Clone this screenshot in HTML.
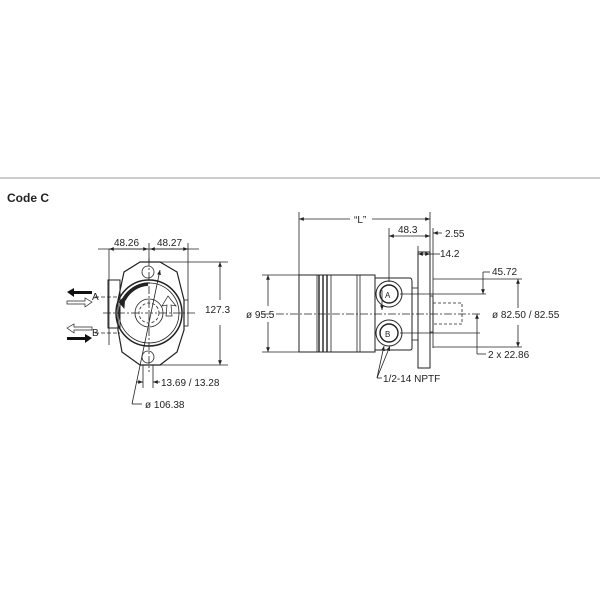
<!DOCTYPE html>
<html><head><style>
body{margin:0;background:#fff;}
svg{display:block;}
text{font-family:"Liberation Sans",sans-serif;font-size:10px;fill:#222;}
</style></head><body>
<svg width="600" height="600" viewBox="0 0 600 600" xmlns="http://www.w3.org/2000/svg">
<defs>
<marker id="ar" viewBox="0 0 10 10" refX="10" refY="5" markerWidth="6" markerHeight="6" orient="auto-start-reverse"><path d="M0,1 L10,5 L0,9z" fill="#222"/></marker>
</defs>
<line x1="0" y1="178" x2="600" y2="178" stroke="#999" stroke-width="1"/>
<text x="7" y="202" style="font-size:12px;font-weight:bold">Code C</text>

<g stroke="#222" fill="none" stroke-width="0.8">
<!-- LEFT VIEW -->
<line x1="109" y1="249" x2="109" y2="345"/>
<line x1="149" y1="243" x2="149" y2="262"/>
<line x1="188" y1="243" x2="188" y2="300"/>
<line x1="98" y1="249" x2="199" y2="249"/>
<line x1="109" y1="249" x2="148" y2="249" marker-start="url(#ar)" marker-end="url(#ar)"/>
<line x1="150" y1="249" x2="188" y2="249" marker-start="url(#ar)" marker-end="url(#ar)"/>
<line x1="150" y1="262" x2="228" y2="262"/>
<line x1="150" y1="365" x2="228" y2="365"/>
<line x1="220" y1="262" x2="220" y2="300" marker-start="url(#ar)"/>
<line x1="220" y1="325" x2="220" y2="365" marker-end="url(#ar)"/>
<!-- body -->
<path d="M140,262 L160,262 L177,272 L184,300 L184,330 L177,352 L160,365 L140,365 L122,352 L118,330 L118,300 L124,272 Z" stroke-width="1.2"/>
<rect x="108" y="280" width="12" height="48" stroke-width="1"/>
<rect x="184" y="300" width="4" height="26"/>
<circle cx="149" cy="313" r="33" stroke-width="1.5"/>
<circle cx="149" cy="313" r="30"/>
<circle cx="149" cy="313" r="14"/>
<circle cx="149" cy="313" r="10" stroke-dasharray="3,2"/>
<circle cx="148" cy="272" r="6"/>
<circle cx="148" cy="357" r="6"/>
<path d="M148,284 A29,29 0 0 0 124,300" stroke-width="3.5"/>
<path d="M119,302 L125,296 L124,308 Z" fill="#222"/>
<path d="M168,296 L176,306 L171,305 L172,316 L166,316 L167,305 L162,306 Z" stroke-width="0.7"/>
<line x1="103" y1="313" x2="195" y2="313" stroke-dasharray="8,2,2,2"/>
<line x1="149" y1="258" x2="149" y2="372" stroke-dasharray="8,2,2,2"/>
<line x1="95" y1="297" x2="120" y2="297" stroke-dasharray="4,2"/>
<line x1="95" y1="333" x2="120" y2="333" stroke-dasharray="4,2"/>
<line x1="143" y1="365" x2="143" y2="388"/>
<line x1="153" y1="365" x2="153" y2="388"/>
<line x1="136" y1="382" x2="143" y2="382" marker-end="url(#ar)"/>
<line x1="160" y1="382" x2="153" y2="382" marker-end="url(#ar)"/>
<line x1="132" y1="404" x2="160" y2="270" marker-end="url(#ar)"/>
<line x1="132" y1="404" x2="142" y2="404"/>
</g>
<!-- flow arrows -->
<path d="M67,292 L74,288 L74,291 L92,291 L92,294 L74,294 L74,297 Z" fill="#111"/>
<path d="M92,302 L85,298 L85,301 L67,301 L67,304 L85,304 L85,307 Z" fill="#fff" stroke="#222" stroke-width="0.7"/>
<path d="M67,328 L74,324 L74,327 L92,327 L92,330 L74,330 L74,333 Z" fill="#fff" stroke="#222" stroke-width="0.7"/>
<path d="M92,338 L85,334 L85,337 L67,337 L67,340 L85,340 L85,343 Z" fill="#111"/>
<text x="92" y="300">A</text>
<text x="92" y="336">B</text>
<text x="114" y="246">48.26</text>
<text x="157" y="246">48.27</text>
<text x="205" y="313">127.3</text>
<text x="161" y="386">13.69 / 13.28</text>
<text x="145" y="408">ø 106.38</text>

<g stroke="#222" fill="none" stroke-width="0.8">
<!-- RIGHT VIEW -->
<line x1="299" y1="212" x2="299" y2="275"/>
<line x1="430" y1="212" x2="430" y2="252"/>
<line x1="299" y1="219" x2="350" y2="219" marker-start="url(#ar)"/>
<line x1="372" y1="219" x2="430" y2="219" marker-end="url(#ar)"/>
<line x1="389" y1="228" x2="389" y2="282"/>
<line x1="389" y1="236" x2="430" y2="236" marker-start="url(#ar)" marker-end="url(#ar)"/>
<line x1="433" y1="228" x2="433" y2="279"/>
<line x1="442" y1="233" x2="433" y2="233" marker-end="url(#ar)"/>
<line x1="418" y1="246" x2="418" y2="252"/>
<line x1="418" y1="254" x2="430" y2="254" marker-start="url(#ar)" marker-end="url(#ar)"/>
<line x1="430" y1="254" x2="440" y2="254"/>
<!-- body -->
<rect x="299" y="275" width="76" height="77" stroke-width="1"/>
<line x1="317" y1="275" x2="317" y2="352"/>
<line x1="319" y1="275" x2="319" y2="352" stroke-width="1.4"/>
<line x1="323" y1="275" x2="323" y2="352" stroke-width="1.4"/>
<line x1="327" y1="275" x2="327" y2="352" stroke-width="1.4"/>
<line x1="331" y1="275" x2="331" y2="352"/>
<line x1="357" y1="275" x2="357" y2="352"/>
<line x1="360" y1="275" x2="360" y2="352"/>
<path d="M375,278 L410,278 Q412,278 412,282 L412,348 Q412,350 410,350 L375,350 Z" stroke-width="1"/>
<circle cx="389" cy="294" r="13" stroke-width="1"/>
<circle cx="389" cy="294" r="9" stroke-width="1.4"/>
<circle cx="389" cy="333" r="13" stroke-width="1"/>
<circle cx="389" cy="333" r="9" stroke-width="1.4"/>
<rect x="412" y="288" width="6" height="52"/>
<rect x="418" y="252" width="12" height="116" stroke-width="1"/>
<line x1="433" y1="279" x2="433" y2="348"/>
<rect x="430" y="296" width="3" height="36"/>
<line x1="433" y1="279" x2="522" y2="279"/>
<line x1="433" y1="347" x2="522" y2="347"/>
<line x1="400" y1="294" x2="486" y2="294"/>
<line x1="400" y1="333" x2="480" y2="333"/>
<rect x="433" y="303" width="29" height="21" stroke-dasharray="3,2"/>
<line x1="262" y1="314" x2="480" y2="314" stroke-dasharray="8,2,2,2"/>
<line x1="262" y1="275" x2="299" y2="275"/>
<line x1="262" y1="352" x2="299" y2="352"/>
<line x1="268" y1="275" x2="268" y2="306" marker-start="url(#ar)"/>
<line x1="268" y1="322" x2="268" y2="352" marker-end="url(#ar)"/>
<line x1="518" y1="279" x2="518" y2="308" marker-start="url(#ar)"/>
<line x1="518" y1="325" x2="518" y2="347" marker-end="url(#ar)"/>
<line x1="483" y1="272" x2="483" y2="294" marker-end="url(#ar)"/>
<line x1="483" y1="272" x2="490" y2="272"/>
<line x1="477" y1="314" x2="477" y2="354" marker-start="url(#ar)"/>
<line x1="477" y1="354" x2="486" y2="354"/>
<line x1="377" y1="378" x2="384" y2="346" marker-end="url(#ar)"/>
<line x1="377" y1="378" x2="390" y2="346" marker-end="url(#ar)"/>
<line x1="377" y1="378" x2="382" y2="378"/>
<line x1="382" y1="290" x2="382" y2="310" marker-end="url(#ar)"/>
</g>
<text x="354" y="223">“L”</text>
<text x="398" y="233">48.3</text>
<text x="445" y="237">2.55</text>
<text x="440" y="257">14.2</text>
<text x="492" y="275">45.72</text>
<text x="492" y="318">ø 82.50 / 82.55</text>
<text x="488" y="358">2 x 22.86</text>
<text x="246" y="318">ø 95.5</text>
<text x="383" y="382">1/2-14 NPTF</text>
<text x="385" y="298" style="font-size:8px">A</text>
<text x="385" y="337" style="font-size:8px">B</text>
</svg>
</body></html>
